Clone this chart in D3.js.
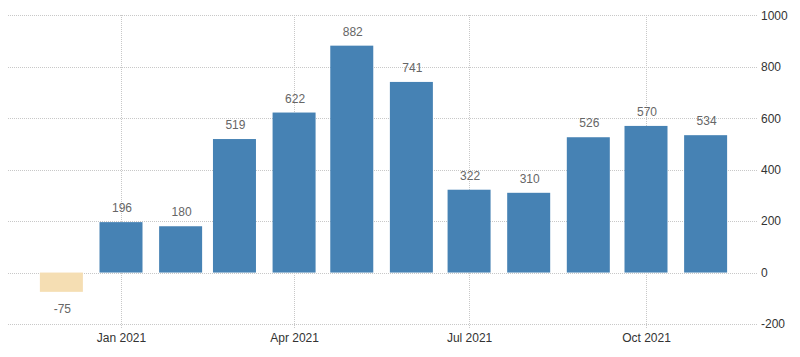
<!DOCTYPE html>
<html>
<head>
<meta charset="utf-8">
<script src="https://cdn.jsdelivr.net/npm/d3@7"></script>
<style>
  html, body { margin: 0; padding: 0; background: #fff; }
  svg { display: block; }
  text { font-family: Arial, "Liberation Sans", sans-serif; }
</style>
</head>
<body>
<svg id="chart" width="800" height="357"></svg>
<script>
const months = ["2020-12-01","2021-01-01","2021-02-01","2021-03-01","2021-04-01","2021-05-01",
                "2021-06-01","2021-07-01","2021-08-01","2021-09-01","2021-10-01","2021-11-01"];
const values = [-75, 196, 180, 519, 622, 882, 741, 322, 310, 526, 570, 534];
const xTickDates = ["2021-01-01","2021-04-01","2021-07-01","2021-10-01"];
const xTickLabels = ["Jan 2021","Apr 2021","Jul 2021","Oct 2021"];
const yTicks = [-200, 0, 200, 400, 600, 800, 1000];

const svg = d3.select("#chart");
const parse = d3.utcParse("%Y-%m-%d");

const x = d3.scaleUtc()
  .domain([parse("2021-01-01"), parse("2021-10-01")])
  .range([121, 646]);
const y = d3.scaleLinear().domain([-200, 1000]).range([324, 15.3]);

const gridLeft = 8, gridRight = 758, barW = 43;

// horizontal grid
svg.append("g").selectAll("line").data(yTicks).join("line")
  .attr("x1", gridLeft).attr("x2", gridRight)
  .attr("y1", d => Math.round(y(d)) + 0.5).attr("y2", d => Math.round(y(d)) + 0.5)
  .attr("stroke", "#c8c8c8").attr("stroke-width", 1).attr("stroke-dasharray", "1,1");

// vertical grid
svg.append("g").selectAll("line").data(xTickDates).join("line")
  .attr("x1", d => Math.round(x(parse(d))) + 0.5).attr("x2", d => Math.round(x(parse(d))) + 0.5)
  .attr("y1", 15).attr("y2", 329)
  .attr("stroke", "#c8c8c8").attr("stroke-width", 1).attr("stroke-dasharray", "1,1");

// bars
svg.append("g").selectAll("rect").data(values).join("rect")
  .attr("x", (d, i) => x(parse(months[i])) - barW / 2)
  .attr("width", barW)
  .attr("y", d => y(Math.max(0, d)))
  .attr("height", d => Math.abs(y(d) - y(0)))
  .attr("fill", d => d < 0 ? "#F5DEB3" : "#4682B4");

// value labels
svg.append("g").selectAll("text").data(values).join("text")
  .attr("x", (d, i) => x(parse(months[i])) + 1)
  .attr("y", d => d < 0 ? y(d) + 21 : y(d) - 10)
  .attr("text-anchor", "middle")
  .attr("font-size", 12)
  .attr("fill", "#666")
  .text(d => String(d));

// y axis labels (right)
const yAxis = d3.axisRight(y).tickValues(yTicks).tickSize(0).tickPadding(0).tickFormat(d => String(d));
const gy = svg.append("g").attr("transform", "translate(761,0)").call(yAxis);
gy.select(".domain").remove();
gy.selectAll("text").attr("font-size", 12).attr("fill", "#333")
  .attr("font-family", "Arial, 'Liberation Sans', sans-serif");

// x axis labels
const xAxis = d3.axisBottom(x).tickValues(xTickDates.map(parse)).tickSize(0).tickPadding(0)
  .tickFormat((d, i) => xTickLabels[i]);
const gx = svg.append("g").attr("transform", "translate(0,333)").call(xAxis);
gx.select(".domain").remove();
gx.selectAll("text").attr("font-size", 12).attr("fill", "#333")
  .attr("font-family", "Arial, 'Liberation Sans', sans-serif");
</script>
</body>
</html>
